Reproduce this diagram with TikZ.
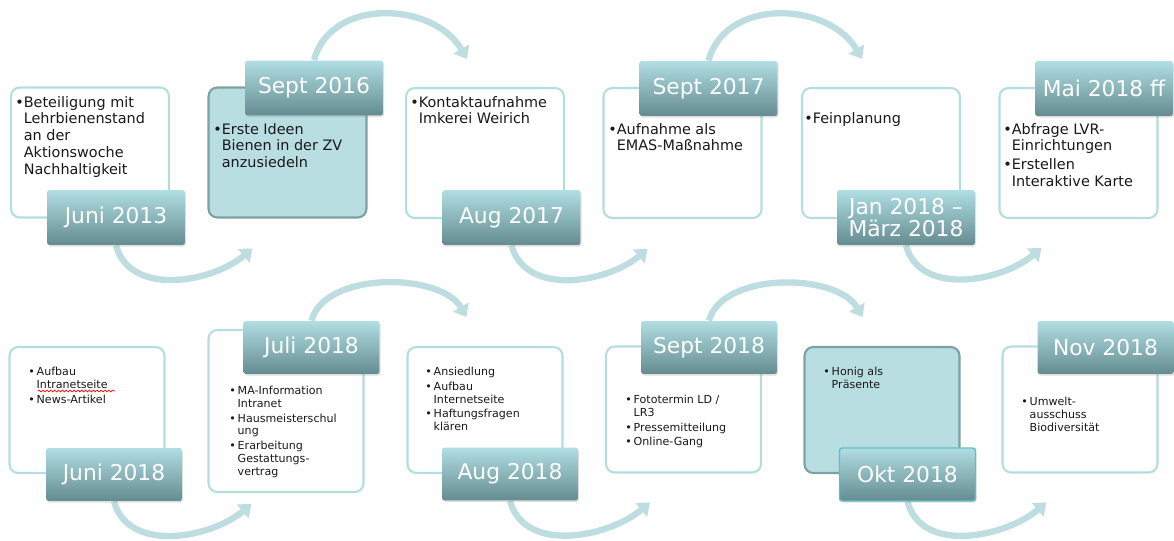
\documentclass[tikz,border=0pt]{standalone}
\usepackage{fontspec}
\setmainfont{DejaVu Sans}
\usetikzlibrary{arrows.meta,shadows,backgrounds,decorations.pathmorphing}

\definecolor{boxedge}{RGB}{180,220,225}
\definecolor{hlfill}{RGB}{184,222,226}
\definecolor{hledge}{RGB}{127,160,163}
\definecolor{tabtop}{RGB}{176,222,227}
\definecolor{tabbot}{RGB}{100,140,144}
\definecolor{okedge}{RGB}{95,190,200}
\definecolor{arccol}{RGB}{190,221,225}
\definecolor{notetext}{RGB}{25,25,25}

\newcommand{\bsp}{\hphantom{\textbullet}}

\begin{document}
\begin{tikzpicture}[x=0.02cm, y=0.02cm,
	phase/.style={draw=boxedge, line width=1.2pt, fill=white, rounded corners=5pt, inner sep=0pt},
	phasehl/.style={phase, draw=hledge, fill=hlfill},
	upper/.style={minimum width=3.16cm, minimum height=2.6cm},
	lower/.style={minimum width=3.1cm, minimum height=2.52cm},
	tab/.style={rounded corners=1.5pt, top color=tabtop, bottom color=tabbot, text=white,
		font=\fontsize{12.4}{12.8}\selectfont, minimum width=2.76cm, minimum height=1.1cm,
		inner sep=0pt, align=center,
		drop shadow={opacity=0.25, shadow xshift=0.6pt, shadow yshift=-0.9pt}},
	tabsm/.style={tab, minimum width=2.72cm, minimum height=1.06cm},
	note/.style={anchor=north west, inner sep=0pt, align=left, text=notetext,
		font=\fontsize{8.2}{9.5}\selectfont},
	small/.style={note, font=\fontsize{6.3}{7.3}\selectfont},
	flow/.style={draw=arccol, line width=3.6pt, -{Triangle[length=6.5pt,width=10pt]}},
	squiggle/.style={red, line width=0.4pt, decorate,
		decoration={snake, amplitude=0.5pt, segment length=2.2pt}}]
	\useasboundingbox (0,0) rectangle (1174,-541);

	% first row
	\node[phase, upper] (b1) at (90,-152.5) {};
	\node[phasehl, upper] (b2) at (287.5,-152.5) {};
	\node[phase, upper] (b3) at (485,-153) {};
	\node[phase, upper] (b4) at (682.5,-153) {};
	\node[phase, upper] (b5) at (881,-153) {};
	\node[phase, upper] (b6) at (1078.5,-153) {};

	\node[tab] (j1) at (116,-217.5) {Juni 2013};
	\node[tab] (s2) at (314,-88) {Sept 2016};
	\node[tab] (j3) at (511.5,-217.5) {Aug 2017};
	\node[tab] (s4) at (708.5,-88.5) {Sept 2017};
	\node[tab] (j5) at (906,-217.5) {Jan 2018 --\\März 2018};
	\node[tab] (s6) at (1104,-88.5) {Mai 2018 ff};

	\node[note] (t1) at (15,-96) {\textbullet Beteiligung mit\\\bsp Lehrbienenstand\\\bsp an der\\\bsp Aktionswoche\\\bsp Nachhaltigkeit};
	\node[note] (t2) at (213,-123) {\textbullet Erste Ideen\\\bsp Bienen in der ZV\\\bsp anzusiedeln};
	\node[note] (t3) at (410,-96) {\textbullet Kontaktaufnahme\\\bsp Imkerei Weirich};
	\node[note] (t4) at (608,-123) {\textbullet Aufnahme als\\\bsp EMAS-Maßnahme};
	\node[note] (t5) at (804,-112) {\textbullet Feinplanung};
	\node[note] (t6) at (1003,-123) {\textbullet Abfrage LVR-\\\bsp Einrichtungen\\[1pt]\textbullet Erstellen\\\bsp Interaktive Karte};

	% second row
	\node[phase, lower] (b7) at (87,-410) {};
	\node[phase, lower, minimum height=3.24cm] (b8) at (286,-411) {};
	\node[phase, lower] (b9) at (485,-410) {};
	\node[phase, lower] (b10) at (683.5,-409.5) {};
	\node[phasehl, lower] (b11) at (882,-410) {};
	\node[phase, lower] (b12) at (1080,-409.5) {};

	\node[tabsm] (j7) at (114,-474.5) {Juni 2018};
	\node[tabsm] (s8) at (311.5,-347.5) {Juli 2018};
	\node[tabsm] (j9) at (510,-474) {Aug 2018};
	\node[tabsm] (s10) at (709,-347.5) {Sept 2018};
	\node[tabsm, draw=okedge, line width=0.8pt] (j11) at (907.5,-474.5) {Okt 2018};
	\node[tabsm] (s12) at (1105.5,-347.5) {Nov 2018};

	\node[small] (t7) at (28,-367) {\textbullet\,Aufbau\\\bsp\,Intranetseite\\[1pt]\textbullet\,News-Artikel};
	\node[small] (t8) at (229,-386) {\textbullet\,MA-Information\\\bsp\,Intranet\\[1pt]\textbullet\,Hausmeisterschul\\\bsp\,ung\\[1pt]\textbullet\,Erarbeitung\\\bsp\,Gestattungs-\\\bsp\,vertrag};
	\node[small] (t9) at (425,-367) {\textbullet\,Ansiedlung\\[1pt]\textbullet\,Aufbau\\\bsp\,Internetseite\\[1pt]\textbullet\,Haftungsfragen\\\bsp\,klären};
	\node[small] (t10) at (625,-395) {\textbullet\,Fototermin LD /\\\bsp\,LR3\\[1pt]\textbullet\,Pressemitteilung\\[1pt]\textbullet\,Online-Gang};
	\node[small] (t11) at (823,-367) {\textbullet\,Honig als\\\bsp\,Präsente};
	\node[small] (t12) at (1021,-397) {\textbullet\,Umwelt-\\\bsp\,ausschuss\\\bsp\,Biodiversität};

	\draw[squiggle] (38,-391) -- (115,-391);

	% arcs behind the boxes
	\begin{scope}[on background layer]
		\draw[flow] (j1.south) to[out=-75,in=-140] ([shift={(45,-30)}]b2.south west);
		\draw[flow] (s2.north) to[out=75,in=120,looseness=1.1] ([shift={(62,28)}]b3.north west);
		\draw[flow] (j3.south) to[out=-75,in=-140] ([shift={(45,-30)}]b4.south west);
		\draw[flow] (s4.north) to[out=75,in=120,looseness=1.1] ([shift={(61,28)}]b5.north west);
		\draw[flow] (j5.south) to[out=-75,in=-140] ([shift={(43,-29)}]b6.south west);

		\draw[flow] (j7.south) to[out=-75,in=-140] ([shift={(44,-11)}]b8.south west);
		\draw[flow] (s8.north) to[out=75,in=120,looseness=0.85] ([shift={(60,29)}]b9.north west);
		\draw[flow] (j9.south) to[out=-75,in=-140] ([shift={(45,-29)}]b10.south west);
		\draw[flow] (s10.north) to[out=75,in=120,looseness=0.85] ([shift={(59,29)}]b11.north west);
		\draw[flow] (j11.south) to[out=-75,in=-140] ([shift={(45,-29)}]b12.south west);
	\end{scope}

\end{tikzpicture}
\end{document}
